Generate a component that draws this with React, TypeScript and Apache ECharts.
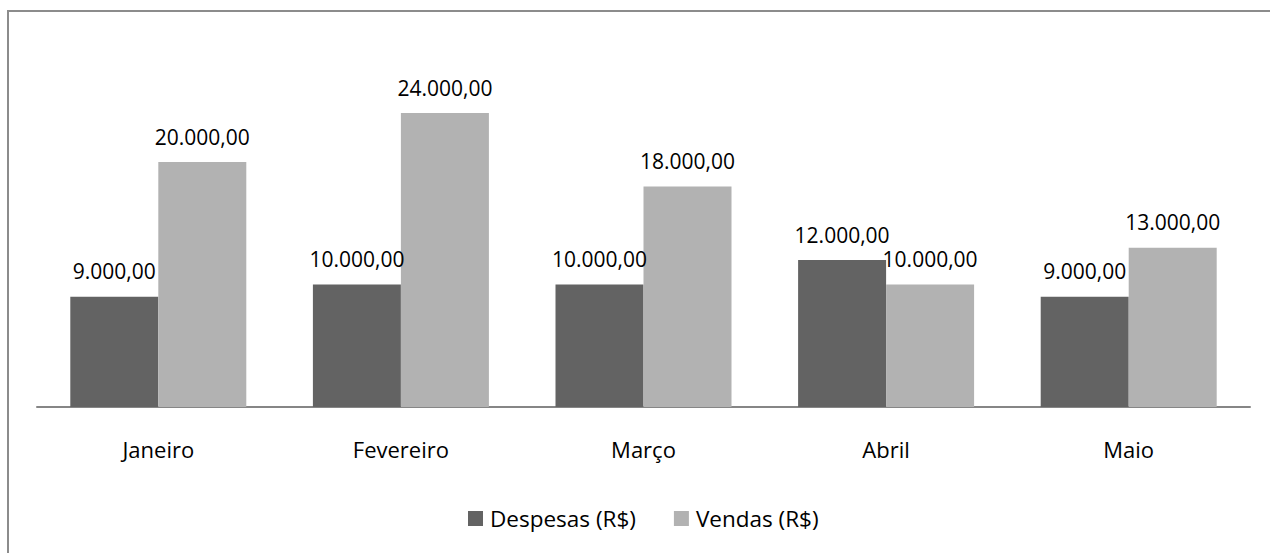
import React, { useEffect, useRef } from "react";
import * as echarts from "echarts";

const categories = ["Janeiro", "Fevereiro", "Março", "Abril", "Maio"];
const despesas = [9000, 10000, 10000, 12000, 9000];
const vendas = [20000, 24000, 18000, 10000, 13000];
const seriesNames = ["Despesas (R$)", "Vendas (R$)"];

const fmt = (v: number) => {
  const s = Math.round(v).toString().replace(/\B(?=(\d{3})+(?!\d))/g, ".");
  return s + ",00";
};

const FONT = "'Open Sans', 'Noto Sans', sans-serif";

export default function App() {
  const ref = useRef<HTMLDivElement>(null);
  useEffect(() => {
    if (!ref.current) return;
    const chart = echarts.init(ref.current, null, { renderer: "svg" });
    const label = {
      show: true,
      position: "top",
      distance: 15,
      color: "#000",
      fontSize: 21,
      fontFamily: FONT,
      formatter: (p: any) => fmt(p.value),
    };
    chart.setOption({
      animation: false,
      backgroundColor: "#ffffff",
      textStyle: { fontFamily: FONT },
      graphic: [
        {
          type: "polyline",
          shape: { points: [[8, 560], [8, 11], [1280, 11]] },
          style: { stroke: "#8c8c8c", lineWidth: 2, fill: "none" },
          silent: true,
        },
      ],
      legend: {
        bottom: 23,
        left: 468,
        padding: 0,
        itemWidth: 15,
        itemHeight: 15,
        itemGap: 38,
        icon: "rect",
        textStyle: { fontFamily: FONT, fontSize: 22.5, color: "#000", padding: [0, 0, 0, 2] },
        data: seriesNames,
      },
      grid: { left: 37, right: 20, top: 39.5, bottom: 146 },
      xAxis: {
        type: "category",
        data: categories,
        axisLine: { lineStyle: { color: "#868686", width: 2 } },
        axisTick: { show: false },
        axisLabel: { color: "#000", fontSize: 22, margin: 31, fontFamily: FONT },
      },
      yAxis: {
        type: "value",
        min: 0,
        max: 30000,
        interval: 5000,
        show: false,
        splitLine: { show: false },
      },
      series: [
        {
          name: seriesNames[0],
          type: "bar",
          data: despesas,
          barWidth: 88,
          barGap: "0%",
          itemStyle: { color: "#636363" },
          label,
        },
        {
          name: seriesNames[1],
          type: "bar",
          data: vendas,
          barWidth: 88,
          barGap: "0%",
          itemStyle: { color: "#b2b2b2" },
          label,
        },
      ],
    });
    return () => chart.dispose();
  }, []);
  return (
    <div
      ref={ref}
      style={{ position: "fixed", left: 0, top: 0, width: 1270, height: 553 }}
    />
  );
}
